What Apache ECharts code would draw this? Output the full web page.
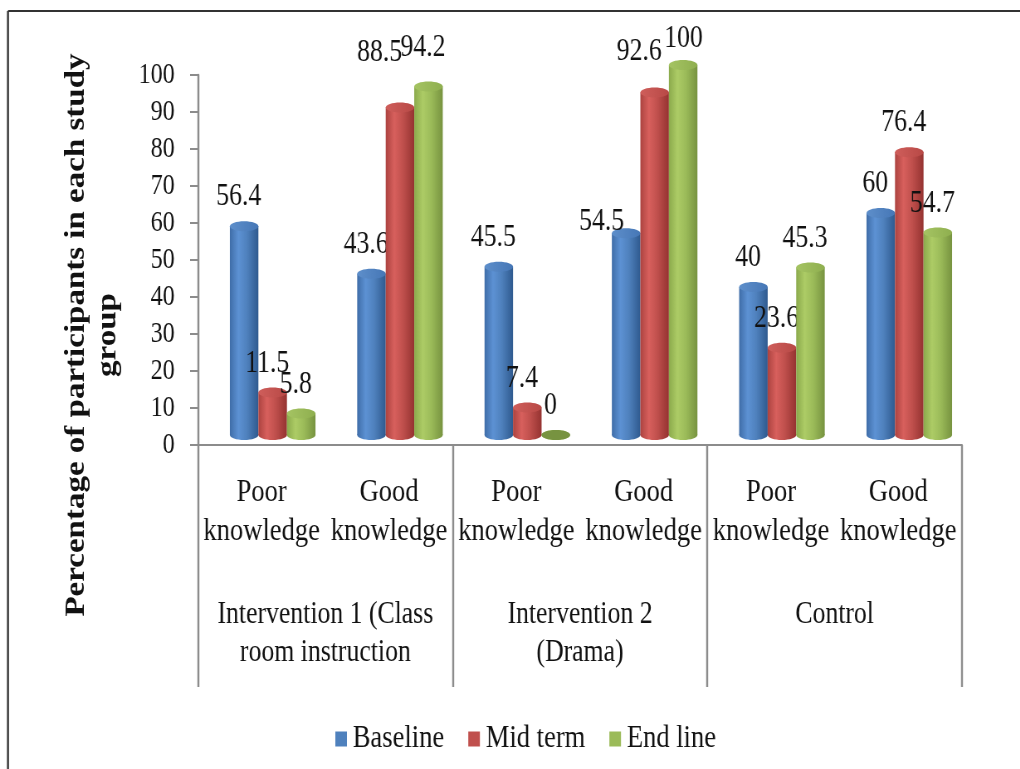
<!DOCTYPE html>
<html>
<head>
<meta charset="utf-8">
<title>Knowledge by study group</title>
<script src="https://cdn.jsdelivr.net/npm/echarts@6/dist/echarts.min.js"></script>
<style>
  html, body { margin: 0; padding: 0; background: #fff; overflow: hidden; width: 1020px; height: 769px; }
  /* The chart is laid out on a wider canvas and compressed horizontally,
     giving the narrow, tall lettering of the slide it was made for. */
  #chart { width: 1229px; height: 769px; transform: scaleX(0.83); transform-origin: 0 0; }
</style>
</head>
<body>
<div id="chart"></div>
<script>
// ---- data ----
const subCategories = ['Poor\nknowledge', 'Good\nknowledge', 'Poor\nknowledge', 'Good\nknowledge', 'Poor\nknowledge', 'Good\nknowledge'];
const groups = ['Intervention 1 (Class\nroom instruction', 'Intervention 2\n(Drama)', 'Control'];
const seriesNames = ['Baseline', 'Mid term', 'End line'];
const baseline = [56.4, 43.6, 45.5, 54.5, 40, 60];
const midTerm  = [11.5, 88.5, 7.4, 92.6, 23.6, 76.4];
const endLine  = [5.8, 94.2, 0, 100, 45.3, 54.7];
const yTicks = { min: 0, max: 100, interval: 10 };
const yTitle = 'Percentage of participants in each study\ngroup';

// ---- styling ----
const FONT = "'Liberation Serif', 'Times New Roman', serif";
const AXIS_GREY = '#8c8c8c';
const palette = [
  { base: '#4F81BD', edgeL: '#3F6DA8', light: '#5D92D4', edgeR: '#2F5A8F', top: '#4677B6', topLight: '#5E8FCB' },
  { base: '#C0504D', edgeL: '#AC4340', light: '#D8605D', edgeR: '#953331', top: '#B84946', topLight: '#CF5E5B' },
  { base: '#9BBB59', edgeL: '#8BAA4C', light: '#ADCC66', edgeR: '#779340', top: '#8FAF4F', topLight: '#A5C463' }
];

// hand-placed value labels that were moved clear of neighbouring cylinders:
// key "series:category" -> [dx, dy] in px
const labelNudge = {
  '1:1': [-18, -26],
  '2:1': [0, -10],
  '1:3': [-12, -12],
  '2:3': [7, 3],
  '0:3': [-23, 18]
};

const BAR_FRAC = 0.224;   // cylinder width as a share of a category
const DEPTH_X = 0.086;    // 3D depth shift to the right (share of a category)
const DEPTH_Y = 10;       // 3D depth shift upwards, px
const CAP_RY = 5;         // half-height of the elliptical caps

function cylinder(seriesIdx) {
  const c = palette[seriesIdx];
  return function (params, api) {
    const cat = api.value(0);
    const val = api.value(1);
    const catW = api.size([1, 0])[0];
    const w = catW * BAR_FRAC;
    const p0 = api.coord([cat, 0]);
    const p1 = api.coord([cat, val]);
    const cx = p0[0] + (seriesIdx - 1) * w + catW * DEPTH_X;
    const yb = p0[1] - DEPTH_Y;
    const yt = p1[1] - DEPTH_Y;
    const rx = w / 2;
    const nudge = labelNudge[seriesIdx + ':' + cat] || [0, 0];
    const bodyFill = new echarts.graphic.LinearGradient(0, 0, 1, 0, [
      { offset: 0, color: c.edgeL },
      { offset: 0.3, color: c.light },
      { offset: 0.6, color: c.base },
      { offset: 1, color: c.edgeR }
    ]);
    const topFill = new echarts.graphic.LinearGradient(0, 0, 1, 0, [
      { offset: 0, color: c.topLight },
      { offset: 1, color: c.top }
    ]);
    const children = [
      { type: 'ellipse', shape: { cx: cx, cy: yb, rx: rx, ry: CAP_RY }, style: { fill: bodyFill } },
      { type: 'rect', shape: { x: cx - rx, y: yt, width: w, height: Math.max(yb - yt, 0) }, style: { fill: bodyFill } },
      { type: 'ellipse', shape: { cx: cx, cy: yt, rx: rx, ry: CAP_RY }, style: { fill: val === 0 ? c.edgeR : topFill } },
      {
        type: 'text', z2: 100,
        style: {
          text: String(val), x: cx - w * 0.19 + nudge[0], y: yt - 29 + nudge[1],
          fill: '#111', fontSize: 31, fontFamily: FONT,
          align: 'center', verticalAlign: 'middle'
        }
      }
    ];
    return { type: 'group', children: children };
  };
}

const valueSets = [baseline, midTerm, endLine];
const series = valueSets.map(function (vals, i) {
  return {
    name: seriesNames[i],
    type: 'custom',
    renderItem: cylinder(i),
    itemStyle: { color: palette[i].base },
    encode: { x: 0, y: 1 },
    data: vals.map(function (v, k) { return [k, v]; }),
    z: 2 + i
  };
});

const chart = echarts.init(document.getElementById('chart'), null, { renderer: 'canvas' });
chart.setOption({
  animation: false,
  backgroundColor: '#fff',
  grid: { left: 238.6, right: 70, top: 75, bottom: 324, containLabel: false },
  legend: {
    data: seriesNames,
    left: 399, top: 718,
    icon: 'rect', itemWidth: 14, itemHeight: 15, itemGap: 29,
    textStyle: { fontFamily: FONT, fontSize: 32, color: '#111', padding: [0, 0, 0, 2] }
  },
  xAxis: [
    {
      type: 'category', data: subCategories, position: 'bottom',
      axisLine: { show: true, lineStyle: { color: AXIS_GREY, width: 2 } },
      axisTick: { show: false },
      axisLabel: { interval: 0, margin: 28, fontFamily: FONT, fontSize: 32, lineHeight: 39, color: '#111' },
      splitLine: { show: false }
    },
    {
      type: 'category', data: groups, position: 'bottom', offset: 0,
      axisLine: { show: false },
      axisTick: { show: true, interval: 0, length: 242, lineStyle: { color: AXIS_GREY, width: 2.4 } },
      axisLabel: { interval: 0, margin: 151, fontFamily: FONT, fontSize: 31, lineHeight: 38, color: '#111' },
      splitLine: { show: false }
    }
  ],
  yAxis: {
    type: 'value', min: yTicks.min, max: yTicks.max, interval: yTicks.interval,
    axisLine: { show: true, lineStyle: { color: AXIS_GREY, width: 2.4 } },
    axisTick: { show: true, length: 9.6, lineStyle: { color: AXIS_GREY, width: 2 } },
    axisLabel: { margin: 28, fontFamily: FONT, fontSize: 29, color: '#111' },
    splitLine: { show: false }
  },
  graphic: [
    // outer frame (left and top edges)
    { type: 'line', shape: { x1: 9.6, y1: 11, x2: 9.6, y2: 800 }, style: { stroke: '#333', lineWidth: 2.4 } },
    { type: 'line', shape: { x1: 9.6, y1: 11, x2: 1240, y2: 11 }, style: { stroke: '#333', lineWidth: 2 } },
    // value axis title
    {
      type: 'text', x: 111, y: 335, rotation: Math.PI / 2,
      style: {
        text: yTitle, fontFamily: FONT, fontWeight: 'bold', fontSize: 33, lineHeight: 38,
        fill: '#111', align: 'center', verticalAlign: 'middle'
      }
    }
  ],
  series: series
});
</script>
</body>
</html>
